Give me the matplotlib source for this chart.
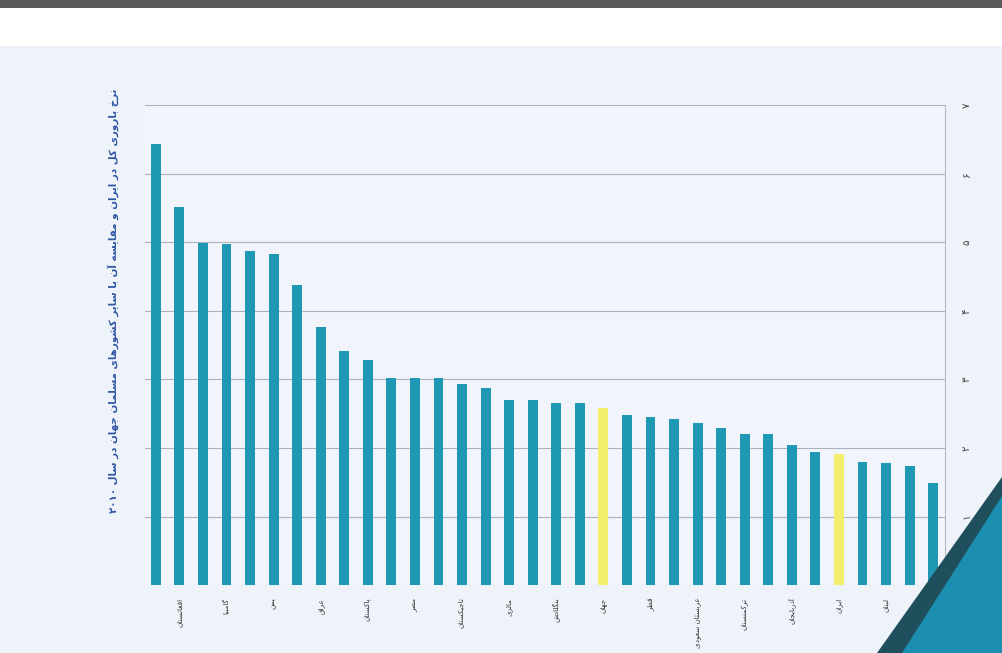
import re
import numpy as np
import matplotlib
matplotlib.use('Agg')
import matplotlib.pyplot as plt
from matplotlib.patches import Polygon, Rectangle

# --- minimal arabic/persian shaping (matplotlib has no bidi/shaping) ---
FORMS = {
    'ا': (0xFE8D, 0xFE8E), 'آ': (0xFE81, 0xFE82),
    'ب': (0xFE8F, 0xFE90, 0xFE91, 0xFE92), 'پ': (0xFB56, 0xFB57, 0xFB58, 0xFB59),
    'ت': (0xFE95, 0xFE96, 0xFE97, 0xFE98), 'ث': (0xFE99, 0xFE9A, 0xFE9B, 0xFE9C),
    'ج': (0xFE9D, 0xFE9E, 0xFE9F, 0xFEA0), 'چ': (0xFB7A, 0xFB7B, 0xFB7C, 0xFB7D),
    'ح': (0xFEA1, 0xFEA2, 0xFEA3, 0xFEA4), 'خ': (0xFEA5, 0xFEA6, 0xFEA7, 0xFEA8),
    'د': (0xFEA9, 0xFEAA), 'ذ': (0xFEAB, 0xFEAC), 'ر': (0xFEAD, 0xFEAE),
    'ز': (0xFEAF, 0xFEB0), 'ژ': (0xFB8A, 0xFB8B),
    'س': (0xFEB1, 0xFEB2, 0xFEB3, 0xFEB4), 'ش': (0xFEB5, 0xFEB6, 0xFEB7, 0xFEB8),
    'ص': (0xFEB9, 0xFEBA, 0xFEBB, 0xFEBC), 'ض': (0xFEBD, 0xFEBE, 0xFEBF, 0xFEC0),
    'ط': (0xFEC1, 0xFEC2, 0xFEC3, 0xFEC4), 'ظ': (0xFEC5, 0xFEC6, 0xFEC7, 0xFEC8),
    'ع': (0xFEC9, 0xFECA, 0xFECB, 0xFECC), 'غ': (0xFECD, 0xFECE, 0xFECF, 0xFED0),
    'ف': (0xFED1, 0xFED2, 0xFED3, 0xFED4), 'ق': (0xFED5, 0xFED6, 0xFED7, 0xFED8),
    'ک': (0xFB8E, 0xFB8F, 0xFB90, 0xFB91), 'گ': (0xFB92, 0xFB93, 0xFB94, 0xFB95),
    'ل': (0xFEDD, 0xFEDE, 0xFEDF, 0xFEE0), 'م': (0xFEE1, 0xFEE2, 0xFEE3, 0xFEE4),
    'ن': (0xFEE5, 0xFEE6, 0xFEE7, 0xFEE8), 'و': (0xFEED, 0xFEEE),
    'ه': (0xFEE9, 0xFEEA, 0xFEEB, 0xFEEC), 'ی': (0xFBFC, 0xFBFD, 0xFBFE, 0xFBFF),
}


def fa(text):
    out = []
    for i, ch in enumerate(text):
        f = FORMS.get(ch)
        if f is None:
            out.append(ch)
            continue
        prev = text[i-1] if i > 0 else None
        nxt = text[i+1] if i < len(text) - 1 else None
        jp = prev in FORMS and len(FORMS[prev]) == 4
        jn = nxt in FORMS and len(f) == 4
        if jp and jn:
            c = f[3]
        elif jp:
            c = f[1]
        elif jn:
            c = f[2]
        else:
            c = f[0]
        out.append(chr(c))
    s = ''.join(out)[::-1]
    return re.sub(r'[۰-۹0-9]+', lambda m: m.group()[::-1], s)


# data (total fertility rate, 2010)
countries = ['سومالی', 'افغانستان', 'مالی', 'گامبیا', 'سنگال', 'یمن', 'سودان',
             'عراق', 'اردن', 'پاکستان', 'سوریه', 'مصر', 'عمان', 'تاجیکستان',
             'لیبی', 'مالزی', 'مراکش', 'بنگلادش', 'قزاقستان', 'جهان', 'اندونزی',
             'قطر', 'ازبکستان', 'عربستان سعودی', 'کویت', 'ترکمنستان', 'ترکیه',
             'آذربایجان', 'تونس', 'ایران', 'امارات', 'لبنان', 'بحرین', 'آلبانی']
tfr = [6.44, 5.51, 4.99, 4.97, 4.87, 4.83, 4.37, 3.76, 3.41, 3.28, 3.02, 3.02,
       3.02, 2.94, 2.87, 2.70, 2.70, 2.65, 2.65, 2.59, 2.48, 2.45, 2.42, 2.36,
       2.29, 2.20, 2.20, 2.04, 1.94, 1.91, 1.79, 1.78, 1.73, 1.49]
highlight = ['جهان', 'ایران']
yticks = [0, 1, 2, 3, 4, 5, 6, 7]
ytick_labels = ['۰', '۱', '۲', '۳', '۴', '۵', '۶', '۷']
title = 'نرخ باروری کل در ایران و مقایسه آن با سایر کشورهای مسلمان جهان در سال ۲۰۱۰'

plt.rcParams['font.family'] = ['DejaVu Sans']

fig = plt.figure(figsize=(10.02, 6.53), dpi=100)
fig.patch.set_facecolor('#eef3fa')
ax = fig.add_axes([0.145, 0.104, 0.798, 0.735])
ax.set_facecolor('#f1f5fb')

x = np.arange(len(countries))
colors = ['#f3ee6c' if c in highlight else '#1f98b3' for c in countries]
ax.bar(x, tfr, width=0.42, color=colors, zorder=3)

ax.set_xlim(-0.45, 33.5)
ax.set_ylim(0, 7)
ax.set_yticks(yticks)
ax.set_yticklabels(ytick_labels, rotation=90, fontsize=7.5, color='#444444', va='center')
ax.yaxis.tick_right()
ax.tick_params(axis='y', length=0, pad=12)
ax.grid(axis='y', color='#a9b3be', linewidth=0.8, zorder=0)
ax.set_xticks(x[1::2])
ax.set_xticklabels([fa(c) for c in countries[1::2]], rotation=90, fontsize=5.2,
                   color='#333333', va='top', ha='center')
ax.tick_params(axis='x', length=0, pad=9)
for s in ['top', 'left', 'bottom']:
    ax.spines[s].set_visible(False)
ax.spines['right'].set_color('#b5bcc5')
ax.spines['right'].set_linewidth(0.8)

fig.text(0.113, 0.54, fa(title), rotation=90, fontsize=7.4, fontweight='bold',
         color='#2f55a4', ha='center', va='center')

# scan page edges / decoration
fig.add_artist(Rectangle((0, 0.93), 1, 0.07, transform=fig.transFigure,
                         facecolor='white', edgecolor='none', zorder=1))
fig.add_artist(Rectangle((0, 0.988), 1, 0.012, transform=fig.transFigure,
                         facecolor='#5a5a5a', edgecolor='none', zorder=1))
fig.add_artist(Polygon([(0.875, 0), (1, 0), (1, 0.27)], closed=True,
                       transform=fig.transFigure, facecolor='#1f4f5c',
                       edgecolor='none', zorder=1))
fig.add_artist(Polygon([(0.9, 0), (1, 0), (1, 0.24)], closed=True,
                       transform=fig.transFigure, facecolor='#1c8fb0',
                       edgecolor='none', zorder=1))

fig.savefig('out.png', dpi=100, facecolor=fig.get_facecolor())
